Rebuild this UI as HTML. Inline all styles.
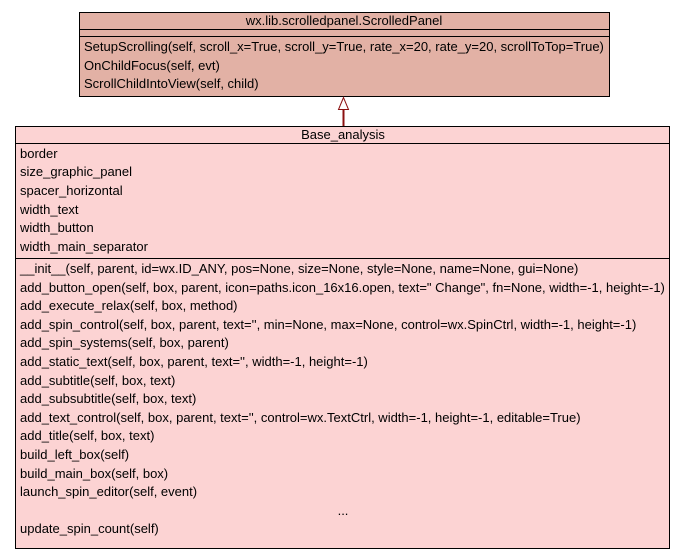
<!DOCTYPE html>
<html><head><meta charset="utf-8"><style>
html,body{margin:0;padding:0;background:#fff;}
svg{display:block;}
text{font-family:"Liberation Sans",sans-serif;font-size:13px;fill:#000;}
</style></head><body>
<svg width="685" height="552" viewBox="0 0 685 552">
<rect x="79.5" y="12.5" width="530" height="84" fill="#e2b1a5" stroke="#000"/>
<line x1="79" y1="29.5" x2="609" y2="29.5" stroke="#000"/>
<line x1="79" y1="36.5" x2="609" y2="36.5" stroke="#000"/>
<text x="344" y="25" text-anchor="middle">wx.lib.scrolledpanel.ScrolledPanel</text>
<text x="84" y="51">SetupScrolling(self, scroll_x=True, scroll_y=True, rate_x=20, rate_y=20, scrollToTop=True)</text>
<text x="84" y="70">OnChildFocus(self, evt)</text>
<text x="84" y="88">ScrollChildIntoView(self, child)</text>

<line x1="343.5" y1="109" x2="343.5" y2="126" stroke="#8b1010" stroke-width="2"/>
<polygon points="343.5,97.5 338.5,109.5 348.5,109.5" fill="#fff" stroke="#8b1010" stroke-width="1"/>

<rect x="15.5" y="126.5" width="654" height="422" fill="#fcd3d3" stroke="#000"/>
<line x1="15" y1="143.5" x2="670" y2="143.5" stroke="#000"/>
<line x1="15" y1="258.5" x2="670" y2="258.5" stroke="#000"/>
<text x="343" y="139" text-anchor="middle">Base_analysis</text>
<text x="20" y="158">border</text>
<text x="20" y="176">size_graphic_panel</text>
<text x="20" y="195">spacer_horizontal</text>
<text x="20" y="214">width_text</text>
<text x="20" y="232">width_button</text>
<text x="20" y="251">width_main_separator</text>
<text x="20" y="273">__init__(self, parent, id=wx.ID_ANY, pos=None, size=None, style=None, name=None, gui=None)</text>
<text x="20" y="292">add_button_open(self, box, parent, icon=paths.icon_16x16.open, text=" Change", fn=None, width=-1, height=-1)</text>
<text x="20" y="310">add_execute_relax(self, box, method)</text>
<text x="20" y="329">add_spin_control(self, box, parent, text='', min=None, max=None, control=wx.SpinCtrl, width=-1, height=-1)</text>
<text x="20" y="347">add_spin_systems(self, box, parent)</text>
<text x="20" y="366">add_static_text(self, box, parent, text='', width=-1, height=-1)</text>
<text x="20" y="385">add_subtitle(self, box, text)</text>
<text x="20" y="403">add_subsubtitle(self, box, text)</text>
<text x="20" y="422">add_text_control(self, box, parent, text='', control=wx.TextCtrl, width=-1, height=-1, editable=True)</text>
<text x="20" y="440">add_title(self, box, text)</text>
<text x="20" y="459">build_left_box(self)</text>
<text x="20" y="478">build_main_box(self, box)</text>
<text x="20" y="496">launch_spin_editor(self, event)</text>
<text x="343" y="515" text-anchor="middle">...</text>
<text x="20" y="533">update_spin_count(self)</text>
</svg>
</body></html>
